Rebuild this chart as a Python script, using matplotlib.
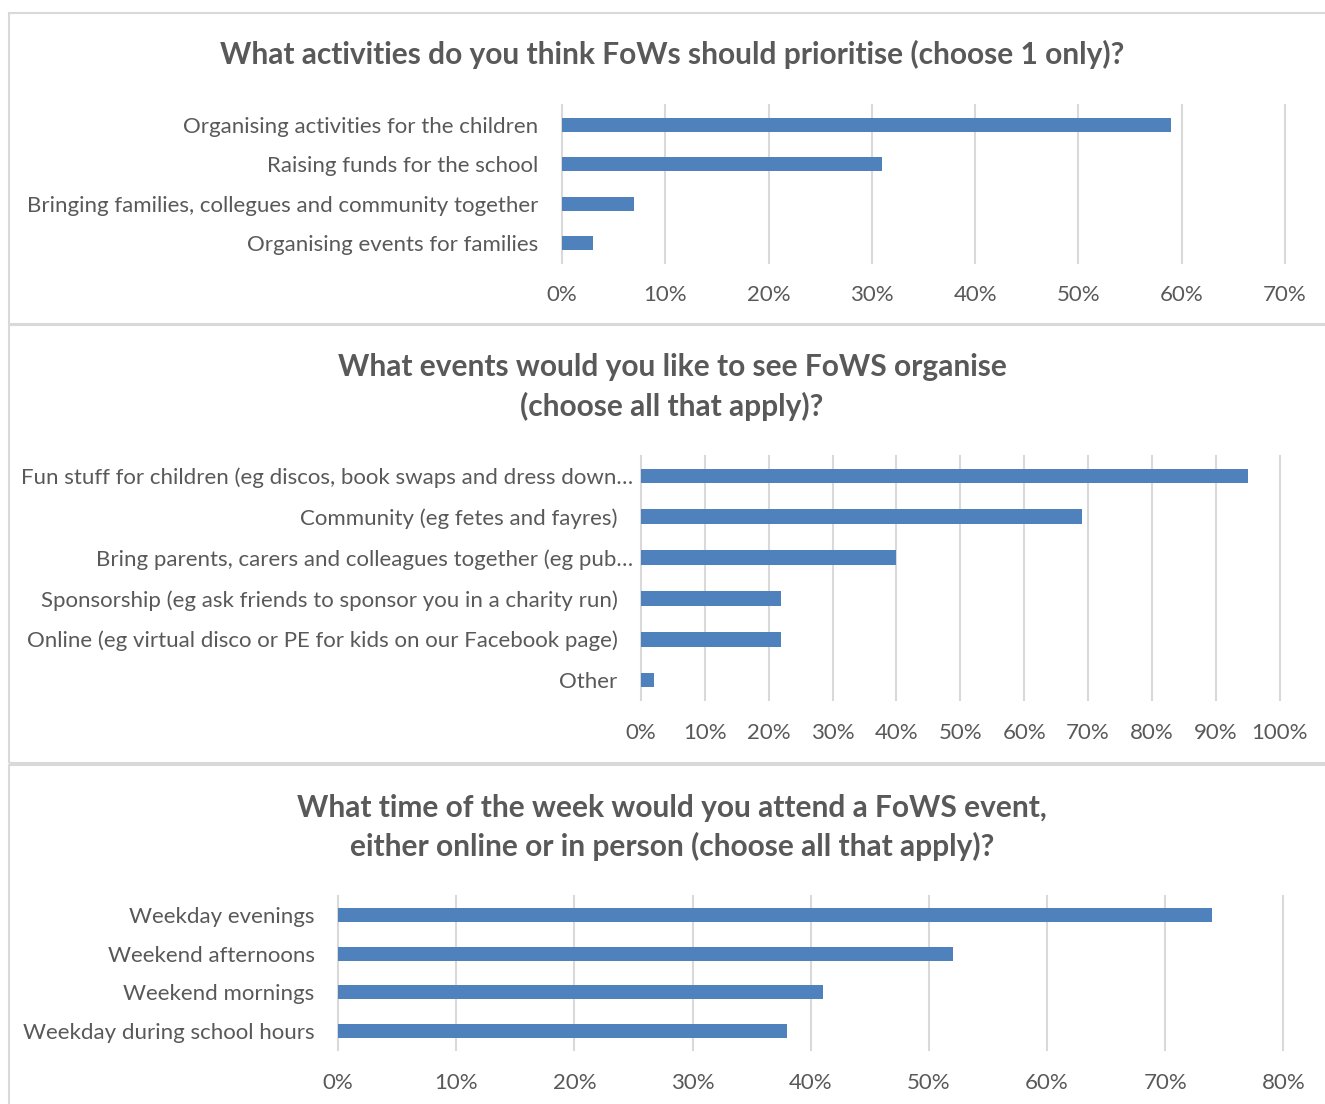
import numpy as np
import matplotlib
matplotlib.use('Agg')
import matplotlib.pyplot as plt
import matplotlib.transforms as mtransforms
from matplotlib.patches import Rectangle
from matplotlib.ticker import FuncFormatter, MultipleLocator

plt.rcParams['font.family'] = ['Lato', 'DejaVu Sans']

#data (shares of respondents)
q1_title = 'What activities do you think FoWs should prioritise (choose 1 only)?'
q1_labels = ['Organising activities for the children',
             'Raising funds for the school',
             'Bringing families, collegues and community together',
             'Organising events for families']
q1_values = [0.59, 0.31, 0.07, 0.03]

q2_title = 'What events would you like to see FoWS organise\n(choose all that apply)?'
q2_labels = ['Fun stuff for children (eg discos, book swaps and dress down\u2026',
             'Community (eg fetes and fayres)',
             'Bring parents, carers and colleagues together (eg pub\u2026',
             'Sponsorship (eg ask friends to sponsor you in a charity run)',
             'Online (eg virtual disco or PE for kids on our Facebook page)',
             'Other']
q2_values = [0.95, 0.69, 0.40, 0.22, 0.22, 0.02]

q3_title = 'What time of the week would you attend a FoWS event,\neither online or in person (choose all that apply)?'
q3_labels = ['Weekday evenings',
             'Weekend afternoons',
             'Weekend mornings',
             'Weekday during school hours']
q3_values = [0.74, 0.52, 0.41, 0.38]

W, H = 1325, 1104
fig = plt.figure(figsize=(W/100, H/100), dpi=100)
fig.patch.set_facecolor('white')

text_col = '#595959'
grid_col = '#d9d9d9'
bar_col = '#4f81bd'

def px_axes(left, right, top, bottom):
    return fig.add_axes([left/W, 1-bottom/H, (right-left)/W, (bottom-top)/H])

def panel(ax, labels, values, xmax):
    y = np.arange(len(labels))
    ax.barh(y, values, height=0.36, color=bar_col, zorder=3)
    ax.set_ylim(len(labels)-0.5, -0.5)
    ax.set_yticks(y)
    ax.set_yticklabels(labels)
    ax.set_xlim(0, xmax)
    ax.xaxis.set_major_locator(MultipleLocator(0.1))
    ax.xaxis.set_major_formatter(FuncFormatter(lambda v, p: '%d%%' % round(v*100)))
    ax.grid(axis='x', color=grid_col, lw=1.5, zorder=0)
    for gl in ax.get_xgridlines():
        gl.set_clip_on(False)
    for s in ax.spines.values():
        s.set_visible(False)
    ax.tick_params(length=0, labelsize=16, labelcolor=text_col)
    ax.tick_params(axis='y', pad=17)
    ax.tick_params(axis='x', pad=16)
    #excel lets the truncated labels run past the others a bit
    shift = mtransforms.ScaledTranslation(16/100, 0, fig.dpi_scale_trans)
    for t in ax.get_yticklabels():
        if t.get_text().endswith('\u2026'):
            t.set_transform(t.get_transform() + shift)

ax1 = px_axes(562, 1285, 105.4, 262.6)
panel(ax1, q1_labels, q1_values, 0.7)
ax2 = px_axes(641, 1279.6, 455.6, 700.4)
panel(ax2, q2_labels, q2_values, 1.0)
ax3 = px_axes(338.2, 1283.3, 895.6, 1050.4)
panel(ax3, q3_labels, q3_values, 0.8)

#titles
fig.text(672/W, 1-54/H, q1_title, ha='center', va='center', fontsize=21.5,
         fontweight='bold', color=text_col)
fig.text(672/W, 1-387/H, q2_title, ha='center', va='center', fontsize=21.5,
         fontweight='bold', color=text_col, linespacing=1.42)
fig.text(672/W, 1-827.5/H, q3_title, ha='center', va='center', fontsize=21.5,
         fontweight='bold', color=text_col, linespacing=1.42)

#panel frames
for top, bot in [(13, 324), (325, 763), (765, 1120)]:
    fig.add_artist(Rectangle((9/W, 1-bot/H), 1340/W, (bot-top)/H,
                             transform=fig.transFigure, fill=False,
                             ec=grid_col, lw=1.5, clip_on=False))

fig.savefig('out.png', dpi=100)
